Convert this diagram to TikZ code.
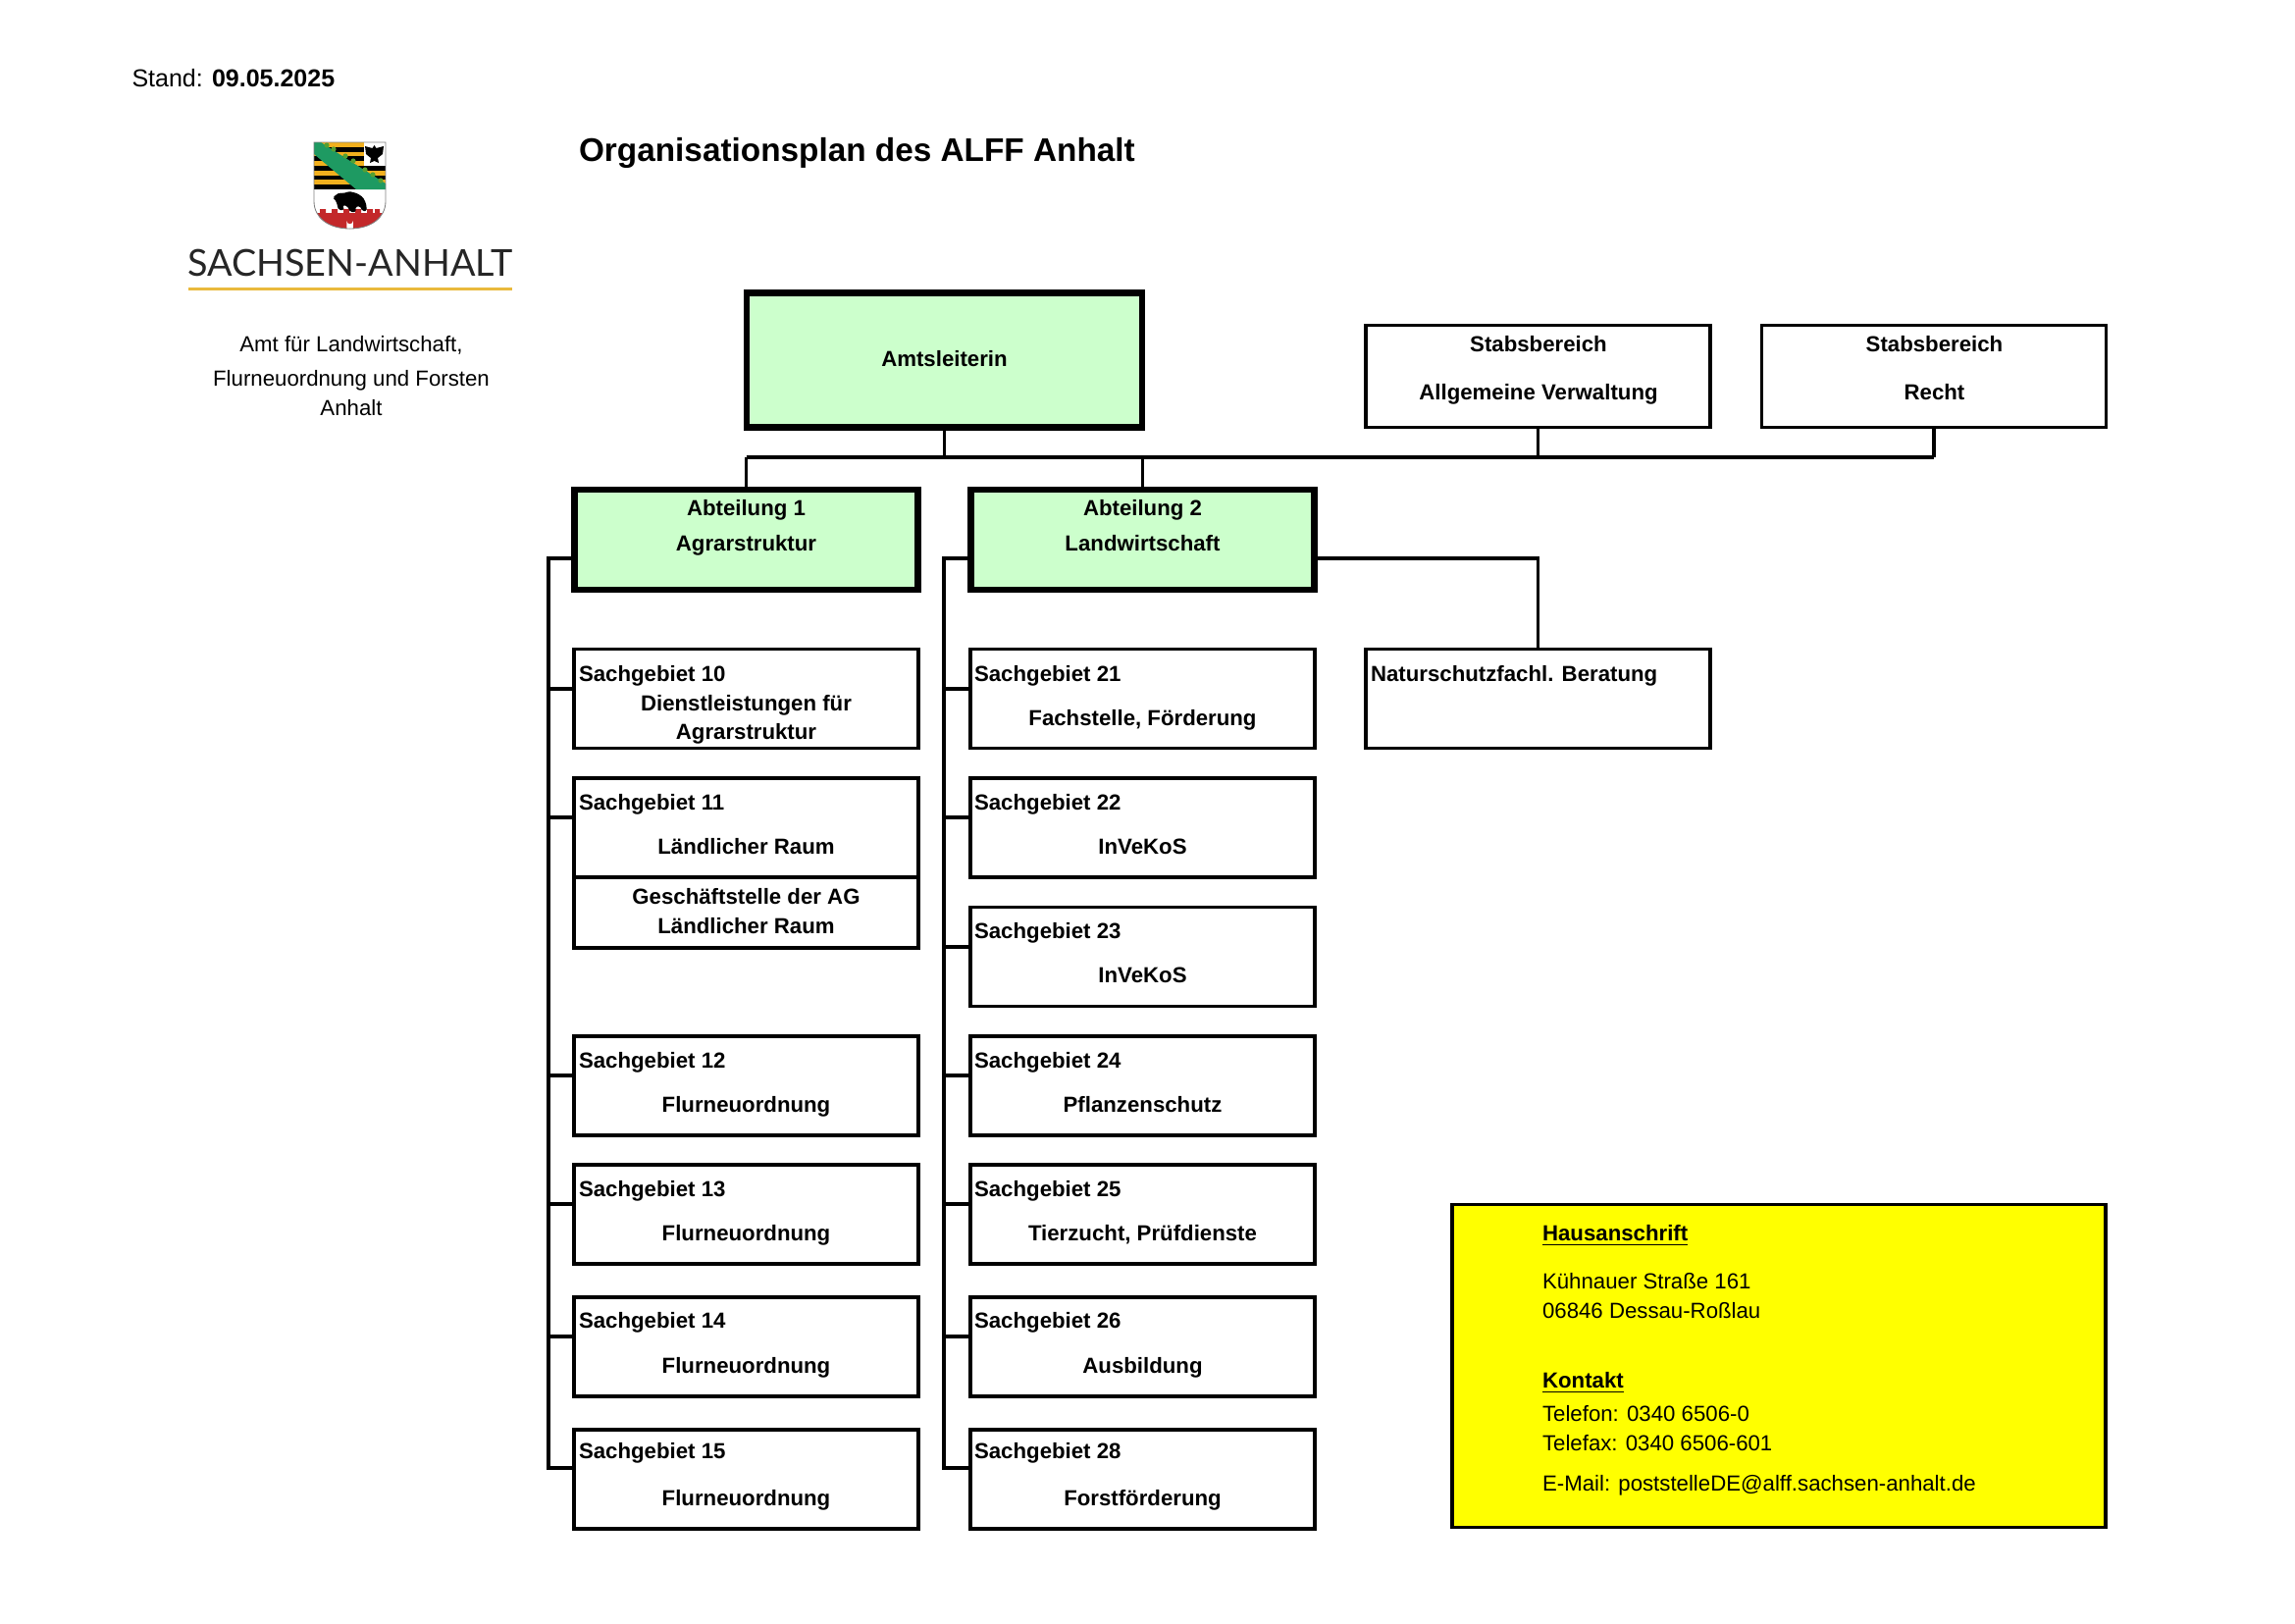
\documentclass[tikz,border=0pt]{standalone}
\usepackage{fontspec}
\setmainfont{Liberation Sans}
\newfontfamily\logofont{Lato}
\usepackage{tikz}

\definecolor{boxgreen}{HTML}{CCFFCC}
\definecolor{boxyellow}{HTML}{FFFF00}
\definecolor{logogold}{HTML}{F2B01E}
\definecolor{logogreen}{HTML}{1E9A62}
\definecolor{logoleaf}{HTML}{55A032}
\definecolor{logored}{HTML}{C3282A}
\definecolor{logoline}{HTML}{E9B93C}

\tikzset{
    sgbox/.style={draw, line width=1.3pt, outer sep=0pt, inner sep=0pt, minimum width=126.4pt, minimum height=36.4pt},
    subbox/.style={sgbox, minimum height=25.8pt},
    stabbox/.style={sgbox, minimum height=37.4pt},
    abtbox/.style={draw, fill=boxgreen, line width=2.2pt, outer sep=0pt, inner sep=0pt, minimum width=126pt, minimum height=37pt},
    chefbox/.style={abtbox, minimum width=145pt, minimum height=49.3pt},
    infobox/.style={draw, fill=boxyellow, line width=1.3pt, outer sep=0pt, inner sep=0pt, minimum width=239.8pt, minimum height=118.4pt},
    conn/.style={line width=1.25pt},
    boldtxt/.style={inner sep=0pt, anchor=base, font=\bfseries\fontsize{8}{9.6}\selectfont},
    leftbold/.style={boldtxt, anchor=base west},
    normtxt/.style={inner sep=0pt, anchor=base, font=\fontsize{8}{9.6}\selectfont},
    infotxt/.style={normtxt, anchor=base west},
}

\begin{document}
\begin{tikzpicture}[x=0.36pt, y=-0.36pt]

    \useasboundingbox (0,0) rectangle (2339,1654);

    \node[inner sep=0pt, anchor=base west, font=\fontsize{9}{11}\selectfont] (stand) at (134,88) {Stand: \textbf{09.05.2025}};
    \node[inner sep=0pt, anchor=base west, font=\bfseries\fontsize{12}{14}\selectfont] (title) at (589.5,164) {Organisationsplan des ALFF Anhalt};

    % coat of arms
    \begin{scope}
        \clip (320,145) -- (393,145) -- (393,205) .. controls (393,222) and (378,233) .. (356.5,233) .. controls (335,233) and (320,222) .. (320,205) -- cycle;
        \fill[logogold] (320,145) rectangle (393,193);
        \fill[black] (320,149.8) rectangle (393,154.6);
        \fill[black] (320,159.4) rectangle (393,164.2);
        \fill[black] (320,169) rectangle (393,173.8);
        \fill[black] (320,178.6) rectangle (393,183.4);
        \fill[black] (320,188.2) rectangle (393,193);
        \fill[white] (370.5,145) rectangle (393,169);
        \fill[black] (381.5,148) -- (383.5,151) -- (391,149) -- (390,157) -- (385,161) -- (386,166) -- (381.5,164) -- (377,166) -- (378,161) -- (373,157) -- (372,149) -- (379.5,151) -- cycle;
        \fill[logogreen] (320,145) -- (327,145) -- (393,187) -- (393,193) -- (363,193) -- (320,157) -- cycle;
        \fill[logoleaf] (333,148) circle (2.6);
        \fill[logoleaf] (340,152) circle (2.6);
        \fill[logoleaf] (352,159) circle (2.6);
        \fill[logoleaf] (360,164) circle (2.6);
        \fill[logoleaf] (372,173) circle (2.6);
        \fill[logoleaf] (380,178) circle (2.6);
        \fill[logoleaf] (388,184) circle (2.6);
        \fill[logored] (320,217) -- (326,217) -- (326,213) -- (332,213) -- (332,217) -- (338,217) -- (338,213) -- (344,213) -- (344,217) -- (350,217) -- (350,213) -- (356,213) -- (356,217) -- (362,217) -- (362,213) -- (368,213) -- (368,217) -- (374,217) -- (374,213) -- (380,213) -- (380,217) -- (382,217) -- (382,213) -- (387,213) -- (387,217) -- (393,217) -- (393,233) -- (320,233) -- cycle;
        \fill[white] (353.3,233) -- (353.3,225) arc (180:0:3.3) -- (359.9,233) -- cycle;
    \end{scope}
    \fill[black, rounded corners=0.6pt] (339,201.5) -- (343,198) -- (346,196.5) -- (350,197) -- (356,195) -- (364,197) -- (370,201) -- (373,207) -- (374,215) -- (369,215) -- (367,210) -- (362,211) -- (363,216) -- (357,216) -- (354,210) -- (349,209) -- (351,214) -- (345,214) -- (343,206) -- (341,203) -- cycle;
    \draw[gray, line width=0.3pt] (320,145) -- (393,145) -- (393,205) .. controls (393,222) and (378,233) .. (356.5,233) .. controls (335,233) and (320,222) .. (320,205) -- cycle;

    \node[inner sep=0pt, anchor=base, text=black!85, font=\logofont\fontsize{13.6}{15}\selectfont] (logo_name) at (357,281) {SACHSEN-ANHALT};
    \fill[logoline] (192,292.5) rectangle (522,295.5);

    \node[normtxt] (office_a) at (358,358) {Amt für Landwirtschaft,};
    \node[normtxt] (office_b) at (358,393) {Flurneuordnung und Forsten};
    \node[normtxt] (office_c) at (358,423) {Anhalt};

    % boxes top
    \node[chefbox] (amt_chef) at (962.5,367) {};
    \node[stabbox] (stab_verw) at (1567.5,383.5) {};
    \node[stabbox] (stab_recht) at (1971,383.5) {};
    \node[abtbox] (abt_1) at (760.5,550) {};
    \node[abtbox] (abt_2) at (1164.5,550) {};

    \node[boldtxt] (amt_chef_txt) at (962.5,373.5) {Amtsleiterin};
    \node[boldtxt] (stab_verw_a) at (1568,358.5) {Stabsbereich};
    \node[boldtxt] (stab_verw_b) at (1568,407) {Allgemeine Verwaltung};
    \node[boldtxt] (stab_recht_a) at (1971.5,358.5) {Stabsbereich};
    \node[boldtxt] (stab_recht_b) at (1971.5,407) {Recht};
    \node[boldtxt] (abt_1_a) at (760.5,525) {Abteilung 1};
    \node[boldtxt] (abt_1_b) at (760.5,561.5) {Agrarstruktur};
    \node[boldtxt] (abt_2_a) at (1164.5,525) {Abteilung 2};
    \node[boldtxt] (abt_2_b) at (1164.5,561.5) {Landwirtschaft};

    % column 1
    \node[sgbox] (sg_10) at (760.5,712) {};
    \node[sgbox] (sg_11) at (760.5,843.5) {};
    \node[subbox] (ag_raum) at (760.5,930) {};
    \node[sgbox] (sg_12) at (760.5,1106.5) {};
    \node[sgbox] (sg_13) at (760.5,1237.5) {};
    \node[sgbox] (sg_14) at (760.5,1372.5) {};
    \node[sgbox] (sg_15) at (760.5,1507.5) {};

    \node[leftbold] (sg_10_a) at (589.5,694.5) {Sachgebiet 10};
    \node[boldtxt] (sg_10_b) at (760.5,724.5) {Dienstleistungen für};
    \node[boldtxt] (sg_10_c) at (760.5,753.5) {Agrarstruktur};
    \node[leftbold] (sg_11_a) at (589.5,825.5) {Sachgebiet 11};
    \node[boldtxt] (sg_11_b) at (760.5,870) {Ländlicher Raum};
    \node[boldtxt] (ag_raum_a) at (760.5,921) {Geschäftstelle der AG};
    \node[boldtxt] (ag_raum_b) at (760.5,951) {Ländlicher Raum};
    \node[leftbold] (sg_12_a) at (589.5,1088.5) {Sachgebiet 12};
    \node[boldtxt] (sg_12_b) at (760.5,1133) {Flurneuordnung};
    \node[leftbold] (sg_13_a) at (589.5,1219.5) {Sachgebiet 13};
    \node[boldtxt] (sg_13_b) at (760.5,1264) {Flurneuordnung};
    \node[leftbold] (sg_14_a) at (589.5,1353.5) {Sachgebiet 14};
    \node[boldtxt] (sg_14_b) at (760.5,1399.5) {Flurneuordnung};
    \node[leftbold] (sg_15_a) at (589.5,1486.5) {Sachgebiet 15};
    \node[boldtxt] (sg_15_b) at (760.5,1534.5) {Flurneuordnung};

    % column 2
    \node[sgbox] (sg_21) at (1164.5,712) {};
    \node[sgbox] (sg_22) at (1164.5,843.5) {};
    \node[sgbox] (sg_23) at (1164.5,975) {};
    \node[sgbox] (sg_24) at (1164.5,1106.5) {};
    \node[sgbox] (sg_25) at (1164.5,1237.5) {};
    \node[sgbox] (sg_26) at (1164.5,1372.5) {};
    \node[sgbox] (sg_28) at (1164.5,1507.5) {};

    \node[leftbold] (sg_21_a) at (992.5,694.5) {Sachgebiet 21};
    \node[boldtxt] (sg_21_b) at (1164.5,739.5) {Fachstelle, Förderung};
    \node[leftbold] (sg_22_a) at (992.5,825.5) {Sachgebiet 22};
    \node[boldtxt] (sg_22_b) at (1164.5,870) {InVeKoS};
    \node[leftbold] (sg_23_a) at (992.5,956.5) {Sachgebiet 23};
    \node[boldtxt] (sg_23_b) at (1164.5,1001) {InVeKoS};
    \node[leftbold] (sg_24_a) at (992.5,1088.5) {Sachgebiet 24};
    \node[boldtxt] (sg_24_b) at (1164.5,1133) {Pflanzenschutz};
    \node[leftbold] (sg_25_a) at (992.5,1219.5) {Sachgebiet 25};
    \node[boldtxt] (sg_25_b) at (1164.5,1264) {Tierzucht, Prüfdienste};
    \node[leftbold] (sg_26_a) at (992.5,1353.5) {Sachgebiet 26};
    \node[boldtxt] (sg_26_b) at (1164.5,1399.5) {Ausbildung};
    \node[leftbold] (sg_28_a) at (992.5,1486.5) {Sachgebiet 28};
    \node[boldtxt] (sg_28_b) at (1164.5,1534.5) {Forstförderung};

    \node[sgbox] (natur) at (1567.5,712) {};
    \node[leftbold] (natur_txt) at (1396.5,694.5) {Naturschutzfachl. Beratung};

    % address
    \node[infobox] (info) at (1813,1392) {};
    \node[leftbold] (info_a) at (1571.5,1264) {\underline{Hausanschrift}};
    \node[infotxt] (info_b) at (1571.5,1313) {Kühnauer Straße 161};
    \node[infotxt] (info_c) at (1571.5,1343) {06846 Dessau-Roßlau};
    \node[leftbold] (info_d) at (1571.5,1414) {\underline{Kontakt}};
    \node[infotxt] (info_e) at (1571.5,1448) {Telefon: 0340 6506-0};
    \node[infotxt] (info_f) at (1571.5,1478) {Telefax: 0340 6506-601};
    \node[infotxt] (info_g) at (1571.5,1519) {E-Mail: poststelleDE@alff.sachsen-anhalt.de};

    % connector ends
    \coordinate (bus_left) at (abt_1.north |- 0,466);
    \coordinate (bus_right) at (stab_recht.south |- 0,466);
    \coordinate (abt_1_out) at (abt_1.west |- 0,569);
    \coordinate (abt_2_out) at (abt_2.west |- 0,569);
    \coordinate (abt_2_right) at (abt_2.east |- 0,569);
    \coordinate (sg_10_in) at (sg_10.west |- 0,702);
    \coordinate (sg_11_in) at (sg_11.west |- 0,833);
    \coordinate (sg_12_in) at (sg_12.west |- 0,1096);
    \coordinate (sg_13_in) at (sg_13.west |- 0,1227);
    \coordinate (sg_14_in) at (sg_14.west |- 0,1362);
    \coordinate (sg_15_in) at (sg_15.west |- 0,1496);
    \coordinate (sg_21_in) at (sg_21.west |- 0,702);
    \coordinate (sg_22_in) at (sg_22.west |- 0,833);
    \coordinate (sg_23_in) at (sg_23.west |- 0,965);
    \coordinate (sg_24_in) at (sg_24.west |- 0,1096);
    \coordinate (sg_25_in) at (sg_25.west |- 0,1227);
    \coordinate (sg_26_in) at (sg_26.west |- 0,1362);
    \coordinate (sg_28_in) at (sg_28.west |- 0,1496);
    \coordinate (trunk_1) at (559,1496);
    \coordinate (trunk_2) at (962,1496);

    \draw[conn] (bus_left) -- (bus_right);
    \draw[conn] (amt_chef.south) -- (amt_chef.south |- bus_left);
    \draw[conn] (bus_left) -- (abt_1.north);
    \draw[conn] (abt_2.north |- bus_left) -- (abt_2.north);
    \draw[conn] (stab_verw.south) -- (stab_verw.south |- bus_left);
    \draw[conn] (stab_recht.south) -- (bus_right);
    \draw[conn] (abt_2_right) -| (natur.north);

    \draw[conn] (abt_1_out) -| (trunk_1) -- (sg_15_in);
    \draw[conn] (trunk_1 |- sg_10_in) -- (sg_10_in);
    \draw[conn] (trunk_1 |- sg_11_in) -- (sg_11_in);
    \draw[conn] (trunk_1 |- sg_12_in) -- (sg_12_in);
    \draw[conn] (trunk_1 |- sg_13_in) -- (sg_13_in);
    \draw[conn] (trunk_1 |- sg_14_in) -- (sg_14_in);

    \draw[conn] (abt_2_out) -| (trunk_2) -- (sg_28_in);
    \draw[conn] (trunk_2 |- sg_21_in) -- (sg_21_in);
    \draw[conn] (trunk_2 |- sg_22_in) -- (sg_22_in);
    \draw[conn] (trunk_2 |- sg_23_in) -- (sg_23_in);
    \draw[conn] (trunk_2 |- sg_24_in) -- (sg_24_in);
    \draw[conn] (trunk_2 |- sg_25_in) -- (sg_25_in);
    \draw[conn] (trunk_2 |- sg_26_in) -- (sg_26_in);

\end{tikzpicture}
\end{document}
